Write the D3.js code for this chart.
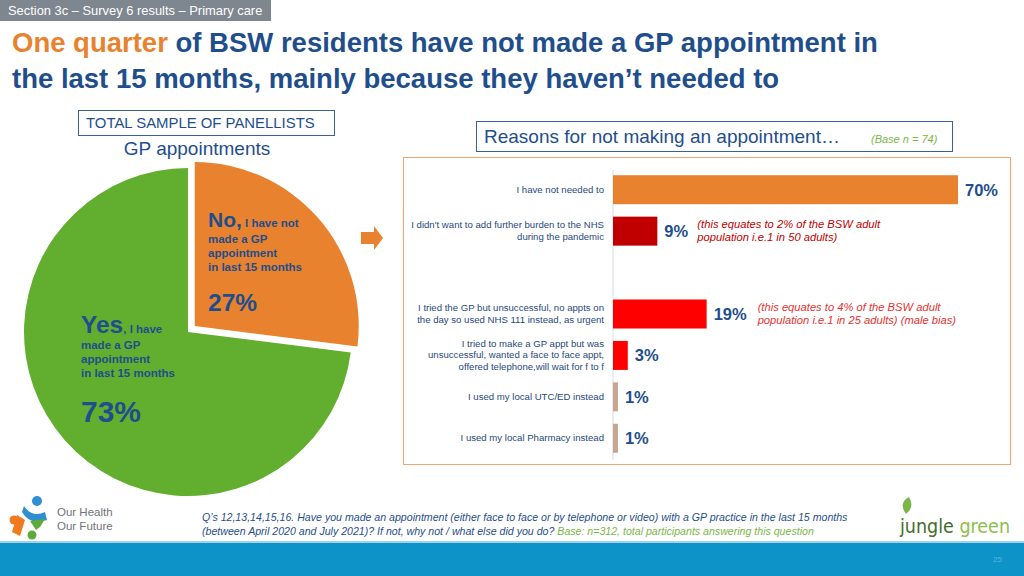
<!DOCTYPE html>
<html><head><meta charset="utf-8">
<script src="https://cdn.jsdelivr.net/npm/d3@7"></script>
<style>
body{margin:0;background:#fff;}
svg{display:block;font-family:"Liberation Sans",Arial,sans-serif;}
</style></head>
<body>
<svg id="c" width="1024" height="576"></svg>
<script>
// ---- data ----
const pieCategories = ["No", "Yes"];
const pieValues = [27, 73];
const barCategories = [
  "I have not needed to",
  "I didn't want to add further burden to the NHS\nduring the pandemic",
  "",
  "I tried the GP but unsuccessful, no appts on\nthe day so used NHS 111 instead, as urgent",
  "I tried to make a GP appt but was\nunsuccessful, wanted a face to face appt,\noffered telephone,will wait for f to f",
  "I used my local UTC/ED instead",
  "I used my local Pharmacy instead"
];
const barValues = [70, 9, null, 19, 3, 1, 1];
const barNotes = [
  null,
  ["(this equates to 2% of the BSW adult", "population i.e.1 in 50 adults)"],
  null,
  ["(this equates to 4% of the BSW adult", "population i.e.1 in 25 adults) (male bias)"],
  null, null, null
];

const svg = d3.select("#c");
const blue = "#1F4E8C";
const orange = "#E8822F";
const green = "#62AE2E";

// header tag
svg.append("rect").attr("x",0).attr("y",0).attr("width",271).attr("height",21).attr("fill","#7E868F");
svg.append("text").attr("x",8).attr("y",15).attr("fill","#fff").attr("font-size",12.9)
  .text("Section 3c \u2013 Survey 6 results \u2013 Primary care");

// title
const t1 = svg.append("text").attr("x",12).attr("y",52).attr("font-size",27.5).attr("font-weight","bold").attr("fill",blue);
t1.append("tspan").attr("fill",orange).text("One quarter");
t1.append("tspan").text(" of BSW residents have not made a GP appointment in");
svg.append("text").attr("x",12).attr("y",88).attr("font-size",27.5).attr("font-weight","bold").attr("fill",blue)
  .text("the last 15 months, mainly because they haven\u2019t needed to");

// left boxes
svg.append("rect").attr("x",78.5).attr("y",110.5).attr("width",256).attr("height",25).attr("fill","none").attr("stroke","#3A5F9A").attr("stroke-width",1);
svg.append("text").attr("x",86).attr("y",128).attr("font-size",14.9).attr("fill",blue).text("TOTAL SAMPLE OF PANELLISTS");
svg.append("text").attr("x",197).attr("y",155).attr("font-size",19).attr("fill",blue).attr("text-anchor","middle").text("GP appointments");

// pie
const cx = 188, cy = 332, R = 164;
const pie = d3.pie().sort(null).value(d => d)(pieValues);
const arc = d3.arc().innerRadius(0).outerRadius(R);
const pieColors = [orange, green];
const g = svg.append("g").attr("transform",`translate(${cx},${cy})`);
g.selectAll("path").data(pie).join("path")
  .attr("d", arc)
  .attr("fill", (d,i) => pieColors[i])
  .attr("transform", (d,i) => {
    if (i !== 0) return null;
    const a = (d.startAngle + d.endAngle)/2, off = 9;
    return `translate(${Math.sin(a)*off},${-Math.cos(a)*off})`;
  });

// pie labels
function pieLabel(x, y, big, small, rest, pct, pctY, bigSize, pctSize){
  const t = svg.append("text").attr("x",x).attr("y",y).attr("fill",blue).attr("font-weight","bold");
  t.append("tspan").attr("font-size",bigSize).text(big);
  t.append("tspan").attr("font-size",11.5).text(small);
  rest.forEach((l,i)=>svg.append("text").attr("x",x).attr("y",y+16+i*14).attr("fill",blue)
    .attr("font-weight","bold").attr("font-size",11.5).text(l));
  svg.append("text").attr("x",x).attr("y",pctY).attr("fill",blue).attr("font-weight","bold").attr("font-size",pctSize).text(pct);
}
pieLabel(208, 227, pieCategories[0]+",", " I have not", ["made a GP","appointment","in last 15 months"], pieValues[0]+"%", 311, 21, 24.5);
pieLabel(81, 333, pieCategories[1], ", I have", ["made a GP","appointment","in last 15 months"], pieValues[1]+"%", 422, 24.5, 30);

// arrow
svg.append("path").attr("d","M361,232 H374 V226 L383,238 L374,250 V244 H361 Z").attr("fill",orange);

// reasons header
svg.append("rect").attr("x",476.5).attr("y",121.5).attr("width",476).attr("height",30).attr("fill","none").attr("stroke","#3A5F9A").attr("stroke-width",1);
svg.append("text").attr("x",484).attr("y",143).attr("font-size",19).attr("fill",blue).text("Reasons for not making an appointment\u2026");
svg.append("text").attr("x",871).attr("y",143).attr("font-size",11).attr("font-style","italic").attr("fill","#7AB648").text("(Base n = 74)");

// bar chart box
svg.append("rect").attr("x",403.5).attr("y",157.5).attr("width",607).attr("height",307).attr("fill","none").attr("stroke","#F0A86E").attr("stroke-width",1);

const x = d3.scaleLinear().domain([0,70]).range([613,958]);
const y = d3.scaleBand().domain(barCategories).range([169,459]).paddingInner(0.3).paddingOuter(0.15);
const barColors = ["#E8822F","#C00000",null,"#FF0000","#FF0000","#C9A48E","#C9A48E"];

svg.append("line").attr("x1",x(0)).attr("x2",x(0)).attr("y1",170).attr("y2",460).attr("stroke","#D5DCE8").attr("stroke-width",1);

const rows = barCategories.map((c,i)=>({c, v:barValues[i], note:barNotes[i], col:barColors[i]})).filter(d=>d.v!=null);

svg.selectAll("rect.bar").data(rows).join("rect").attr("class","bar")
  .attr("x", x(0)).attr("y", d=>y(d.c)).attr("width", d=>Math.max(2.5, x(d.v)-x(0))).attr("height", y.bandwidth())
  .attr("fill", d=>d.col);

rows.forEach(d=>{
  const lines = d.c.split("\n");
  const mid = y(d.c) + y.bandwidth()/2;
  const lh = 11.3;
  lines.forEach((l,i)=>svg.append("text").attr("x",604).attr("y", mid + (i-(lines.length-1)/2)*lh + 3)
    .attr("text-anchor","end").attr("font-size",9.6).attr("fill","#1F497D").text(l));
  const vx = Math.max(x(d.v), x(0)+2.5) + 7;
  svg.append("text").attr("x", vx).attr("y", mid + 6).attr("font-size",16.5).attr("font-weight","bold").attr("fill",blue).text(d.v+"%");
  if (d.note){
    const nx = vx + (d.v>=10?44:33);
    const nc = d.v===9 ? "#C00000" : "#E8312F";
    d.note.forEach((l,i)=>svg.append("text").attr("x",nx).attr("y", mid - 3 + i*13)
      .attr("font-size",11.2).attr("font-style","italic").attr("fill",nc).text(l));
  }
});

// footer
svg.append("rect").attr("x",0).attr("y",543).attr("width",1024).attr("height",33).attr("fill","#0D93C7");
svg.append("rect").attr("x",0).attr("y",541).attr("width",1024).attr("height",2).attr("fill","#9FD3EA");
svg.append("text").attr("x",1002).attr("y",562).attr("font-size",8).attr("fill","#5BB6DD").attr("text-anchor","end").text("25");

const fn1 = svg.append("text").attr("x",202).attr("y",521).attr("font-size",10.6).attr("font-style","italic").attr("fill",blue);
fn1.text("Q\u2019s 12,13,14,15,16. Have you made an appointment (either face to face or by telephone or video) with a GP practice in the last 15 months");
const fn2 = svg.append("text").attr("x",202).attr("y",535).attr("font-size",10.6).attr("font-style","italic").attr("fill",blue);
fn2.append("tspan").text("(between April 2020 and July 2021)? If not, why not / what else did you do? ");
fn2.append("tspan").attr("fill","#7AB648").text("Base: n=312, total participants answering this question");

// Our Health Our Future logo
const lg = svg.append("g");
lg.append("circle").attr("cx",37).attr("cy",501).attr("r",5).attr("fill","#2F8FD0");
lg.append("path").attr("d","M24,506 Q32,518 45,512 L47,520 Q30,526 22,512 Z").attr("fill","#2F8FD0");
lg.append("circle").attr("cx",14).attr("cy",520).attr("r",4.5).attr("fill","#F07A20");
lg.append("path").attr("d","M17,515 L25,520 L20,536 L12,532 Z").attr("fill","#F07A20");
lg.append("circle").attr("cx",32).attr("cy",535).attr("r",4.5).attr("fill","#5DAA3A");
lg.append("path").attr("d","M30,521 L45,519 L40,527 L36,530 Z").attr("fill","#5DAA3A");
svg.append("text").attr("x",57).attr("y",516).attr("font-size",11.5).attr("fill","#6F7378").text("Our Health");
svg.append("text").attr("x",57).attr("y",530).attr("font-size",11.5).attr("fill","#6F7378").text("Our Future");

// jungle green logo
svg.append("path").attr("d","M906,514 Q898,503 909,497 Q915,507 906,514 Z").attr("fill","#7AB648");
const jg = svg.append("text").attr("x",900).attr("y",533).attr("font-size",20).attr("font-family","'DejaVu Sans Condensed','Liberation Sans Narrow',sans-serif")
  .attr("textLength",110).attr("lengthAdjust","spacingAndGlyphs");
jg.append("tspan").attr("fill","#3F6E2A").text("jungle ");
jg.append("tspan").attr("fill","#8CC04A").text("green");
</script>
</body></html>
